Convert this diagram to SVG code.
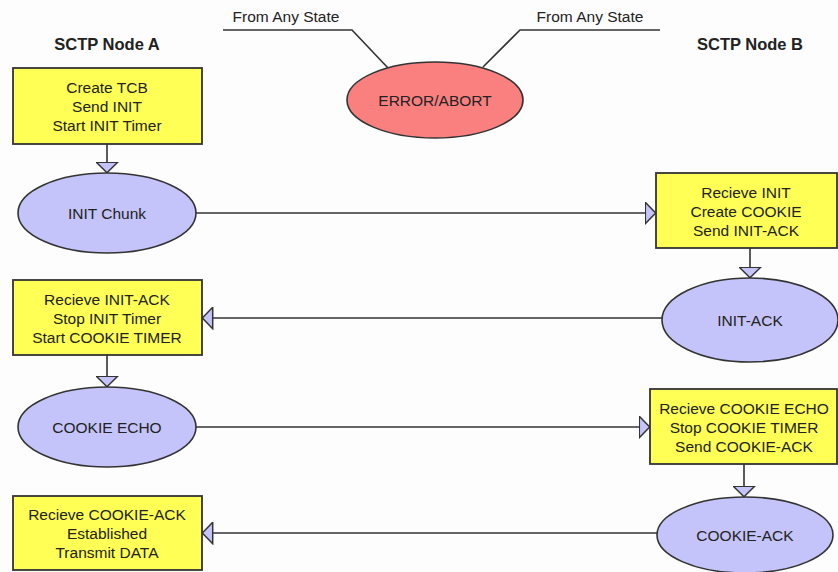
<svg xmlns="http://www.w3.org/2000/svg" width="838" height="572" viewBox="0 0 838 572">
<style>
.box{fill:#ffff55;stroke:#333;stroke-width:1.8}
.st{fill:#c4c4fa;stroke:#333;stroke-width:1.6}
.err{fill:#fa8080;stroke:#333;stroke-width:1.6}
.t{font-family:"Liberation Sans",Arial,sans-serif;font-size:15.5px;fill:#222;text-anchor:middle}
.h{font-family:"Liberation Sans",Arial,sans-serif;font-size:16.5px;font-weight:bold;fill:#222;text-anchor:middle}
.c{fill:none;stroke:#333;stroke-width:1.6}
</style>
<defs>
<marker id="ah" viewBox="0 0 12 23" refX="11.5" refY="11.5" markerWidth="12" markerHeight="23" markerUnits="userSpaceOnUse" orient="auto">
<path d="M0.8,0.8 L11.2,11.5 L0.8,22.2 Z" fill="#c4c4fa" stroke="#333" stroke-width="1.5"/>
</marker>
</defs>
<rect width="838" height="572" fill="#fdfdfd"/>
<text class="h" x="107" y="50">SCTP Node A</text>
<text class="h" x="750" y="50">SCTP Node B</text>
<g id="connectors">
<path class="c" d="M223,30 H352 L388,68"/>
<path class="c" d="M660,30 H520 L483,67"/>
<path class="c" d="M107,144 V173" marker-end="url(#ah)"/>
<path class="c" d="M196,213 H656" marker-end="url(#ah)"/>
<path class="c" d="M750,248 V278" marker-end="url(#ah)"/>
<path class="c" d="M662,318 H202" marker-end="url(#ah)"/>
<path class="c" d="M107,355 V387" marker-end="url(#ah)"/>
<path class="c" d="M196,427 H650" marker-end="url(#ah)"/>
<path class="c" d="M744,464 V497" marker-end="url(#ah)"/>
<path class="c" d="M657,533 H202" marker-end="url(#ah)"/>
</g>
<text class="t" x="286" y="22">From Any State</text>
<text class="t" x="590" y="22">From Any State</text>
<g id="error">
<ellipse class="err" cx="435" cy="100" rx="88" ry="38"/>
<text class="t" x="435" y="106">ERROR/ABORT</text>
</g>
<g id="a1">
<rect class="box" x="13" y="68" width="189" height="76"/>
<text class="t" x="107" y="93">Create TCB</text>
<text class="t" x="107" y="112">Send INIT</text>
<text class="t" x="107" y="131">Start INIT Timer</text>
</g>
<g id="init">
<ellipse class="st" cx="107" cy="213" rx="89" ry="40"/>
<text class="t" x="107" y="219">INIT Chunk</text>
</g>
<g id="b1">
<rect class="box" x="656" y="173" width="181" height="75"/>
<text class="t" x="746" y="198">Recieve INIT</text>
<text class="t" x="746" y="217">Create COOKIE</text>
<text class="t" x="746" y="236">Send INIT-ACK</text>
</g>
<g id="initack">
<ellipse class="st" cx="750" cy="320" rx="88" ry="42"/>
<text class="t" x="750" y="326">INIT-ACK</text>
</g>
<g id="a2">
<rect class="box" x="13" y="280" width="189" height="75"/>
<text class="t" x="107" y="305">Recieve INIT-ACK</text>
<text class="t" x="107" y="324">Stop INIT Timer</text>
<text class="t" x="107" y="343">Start COOKIE TIMER</text>
</g>
<g id="cookieecho">
<ellipse class="st" cx="107" cy="427" rx="89" ry="40"/>
<text class="t" x="107" y="433">COOKIE ECHO</text>
</g>
<g id="b2">
<rect class="box" x="650" y="389" width="187" height="75"/>
<text class="t" x="744" y="414">Recieve COOKIE ECHO</text>
<text class="t" x="744" y="433">Stop COOKIE TIMER</text>
<text class="t" x="744" y="452">Send COOKIE-ACK</text>
</g>
<g id="cookieack">
<ellipse class="st" cx="745" cy="535" rx="88" ry="38"/>
<text class="t" x="745" y="541">COOKIE-ACK</text>
</g>
<g id="a3">
<rect class="box" x="13" y="496" width="189" height="74"/>
<text class="t" x="107" y="520">Recieve COOKIE-ACK</text>
<text class="t" x="107" y="539">Established</text>
<text class="t" x="107" y="558">Transmit DATA</text>
</g>
</svg>
